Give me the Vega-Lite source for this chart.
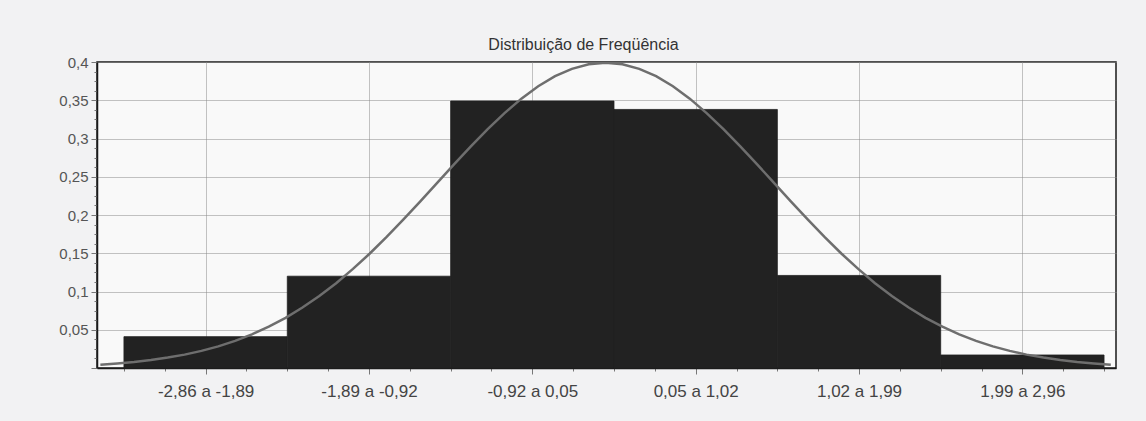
{
  "$schema": "https://vega.github.io/schema/vega-lite/v6.json",
  "autosize": "none",
  "padding": {"left": 97, "top": 62, "right": 30, "bottom": 53},
  "width": 1019,
  "height": 306,
  "background": "#f2f2f3",
  "config": {
    "view": {"fill": "#f9f9f9", "stroke": "#1a1a1a", "strokeWidth": 1.5},
    "font": "Liberation Sans"
  },
  "title": {
    "text": "Distribuição de Freqüência",
    "fontSize": 16,
    "fontWeight": "normal",
    "color": "#333333",
    "font": "Liberation Sans",
    "anchor": "middle",
    "dx": -23,
    "offset": 2
  },
  "datasets": {
    "bins": [
      {"lo": -2.86, "hi": -1.89, "label": "-2,86 a -1,89", "freq": 0.041},
      {"lo": -1.89, "hi": -0.92, "label": "-1,89 a -0,92", "freq": 0.120},
      {"lo": -0.92, "hi": 0.05, "label": "-0,92 a 0,05", "freq": 0.349},
      {"lo": 0.05, "hi": 1.02, "label": "0,05 a 1,02", "freq": 0.338},
      {"lo": 1.02, "hi": 1.99, "label": "1,02 a 1,99", "freq": 0.121},
      {"lo": 1.99, "hi": 2.96, "label": "1,99 a 2,96", "freq": 0.017}
    ],
    "curve": [
      {"z": -3.0, "d": 0.0044}, {"z": -2.9, "d": 0.0060}, {"z": -2.8, "d": 0.0079}, {"z": -2.7, "d": 0.0104},
      {"z": -2.6, "d": 0.0136}, {"z": -2.5, "d": 0.0175}, {"z": -2.4, "d": 0.0224}, {"z": -2.3, "d": 0.0283},
      {"z": -2.2, "d": 0.0355}, {"z": -2.1, "d": 0.0440}, {"z": -2.0, "d": 0.0540}, {"z": -1.9, "d": 0.0656},
      {"z": -1.8, "d": 0.0790}, {"z": -1.7, "d": 0.0940}, {"z": -1.6, "d": 0.1109}, {"z": -1.5, "d": 0.1295},
      {"z": -1.4, "d": 0.1497}, {"z": -1.3, "d": 0.1714}, {"z": -1.2, "d": 0.1942}, {"z": -1.1, "d": 0.2179},
      {"z": -1.0, "d": 0.2420}, {"z": -0.9, "d": 0.2661}, {"z": -0.8, "d": 0.2897}, {"z": -0.7, "d": 0.3123},
      {"z": -0.6, "d": 0.3332}, {"z": -0.5, "d": 0.3521}, {"z": -0.4, "d": 0.3683}, {"z": -0.3, "d": 0.3814},
      {"z": -0.2, "d": 0.3910}, {"z": -0.1, "d": 0.3970}, {"z": 0.0, "d": 0.3989}, {"z": 0.1, "d": 0.3970},
      {"z": 0.2, "d": 0.3910}, {"z": 0.3, "d": 0.3814}, {"z": 0.4, "d": 0.3683}, {"z": 0.5, "d": 0.3521},
      {"z": 0.6, "d": 0.3332}, {"z": 0.7, "d": 0.3123}, {"z": 0.8, "d": 0.2897}, {"z": 0.9, "d": 0.2661},
      {"z": 1.0, "d": 0.2420}, {"z": 1.1, "d": 0.2179}, {"z": 1.2, "d": 0.1942}, {"z": 1.3, "d": 0.1714},
      {"z": 1.4, "d": 0.1497}, {"z": 1.5, "d": 0.1295}, {"z": 1.6, "d": 0.1109}, {"z": 1.7, "d": 0.0940},
      {"z": 1.8, "d": 0.0790}, {"z": 1.9, "d": 0.0656}, {"z": 2.0, "d": 0.0540}, {"z": 2.1, "d": 0.0440},
      {"z": 2.2, "d": 0.0355}, {"z": 2.3, "d": 0.0283}, {"z": 2.4, "d": 0.0224}, {"z": 2.5, "d": 0.0175},
      {"z": 2.6, "d": 0.0136}, {"z": 2.7, "d": 0.0104}, {"z": 2.8, "d": 0.0079}, {"z": 2.9, "d": 0.0060},
      {"z": 3.0, "d": 0.0044}
    ]
  },
  "layer": [
    {
      "data": {"name": "bins"},
      "mark": {"type": "rect", "color": "#222222", "stroke": "#222222", "strokeWidth": 0.8},
      "encoding": {
        "x": {
          "field": "lo", "type": "quantitative",
          "scale": {"domain": [-3.02, 3.031], "nice": false, "zero": false},
          "axis": {
            "title": null,
            "tickCount": 60,
            "values": [-2.86, -2.6175, -2.375, -2.1325, -1.89, -1.6475, -1.405, -1.1625, -0.92, -0.6775, -0.435, -0.1925, 0.05, 0.2925, 0.535, 0.7775, 1.02, 1.2625, 1.505, 1.7475, 1.99, 2.2325, 2.475, 2.7175, 2.96],
            "labelExpr": "abs((datum.value + 2.375) / 0.97 - round((datum.value + 2.375) / 0.97)) < 0.01 ? ['-2,86 a -1,89', '-1,89 a -0,92', '-0,92 a 0,05', '0,05 a 1,02', '1,02 a 1,99', '1,99 a 2,96'][round((datum.value + 2.375) / 0.97)] : ''",
            "labelFontSize": 17,
            "labelColor": "#444444",
            "labelPadding": 9,
            "labelFlush": false,
            "labelOverlap": false,
            "domainColor": "#1a1a1a",
            "domainWidth": 1.5,
            "tickColor": "#777777",
            "tickSize": {"condition": {"test": "abs((datum.value + 2.375) / 0.97 - round((datum.value + 2.375) / 0.97)) < 0.01", "value": 6}, "value": 3},
            "grid": true,
            "gridColor": "#888888",
            "gridDash": [1, 1],
            "gridOpacity": {"condition": {"test": "abs((datum.value + 2.375) / 0.97 - round((datum.value + 2.375) / 0.97)) < 0.01", "value": 1}, "value": 0}
          }
        },
        "x2": {"field": "hi"},
        "y": {
          "field": "freq", "type": "quantitative",
          "scale": {"domain": [0, 0.4], "nice": false},
          "axis": {
            "title": null,
            "tickCount": 60,
            "values": [0, 0.0125, 0.025, 0.0375, 0.05, 0.0625, 0.075, 0.0875, 0.1, 0.1125, 0.125, 0.1375, 0.15, 0.1625, 0.175, 0.1875, 0.2, 0.2125, 0.225, 0.2375, 0.25, 0.2625, 0.275, 0.2875, 0.3, 0.3125, 0.325, 0.3375, 0.35, 0.3625, 0.375, 0.3875, 0.4],
            "labelExpr": "(datum.value > 0.001 && abs(datum.value * 20 - round(datum.value * 20)) < 0.01) ? replace(format(datum.value, '.2~f'), '.', ',') : ''",
            "labelFontSize": 15,
            "labelColor": "#555555",
            "labelPadding": 3,
            "labelFlush": false,
            "labelOverlap": false,
            "domainColor": "#1a1a1a",
            "domainWidth": 1.5,
            "tickColor": "#777777",
            "tickSize": {"condition": {"test": "abs(datum.value * 20 - round(datum.value * 20)) < 0.01", "value": 6}, "value": 3},
            "grid": true,
            "gridColor": "#888888",
            "gridDash": [1, 1],
            "gridOpacity": {"condition": {"test": "abs(datum.value * 20 - round(datum.value * 20)) < 0.01", "value": 1}, "value": 0}
          }
        },
        "y2": {"datum": 0}
      }
    },
    {
      "data": {"name": "curve"},
      "mark": {"type": "line", "color": "#6e6e6e", "strokeWidth": 2.5, "clip": true},
      "encoding": {
        "x": {"field": "z", "type": "quantitative"},
        "y": {"field": "d", "type": "quantitative"}
      }
    }
  ]
}
